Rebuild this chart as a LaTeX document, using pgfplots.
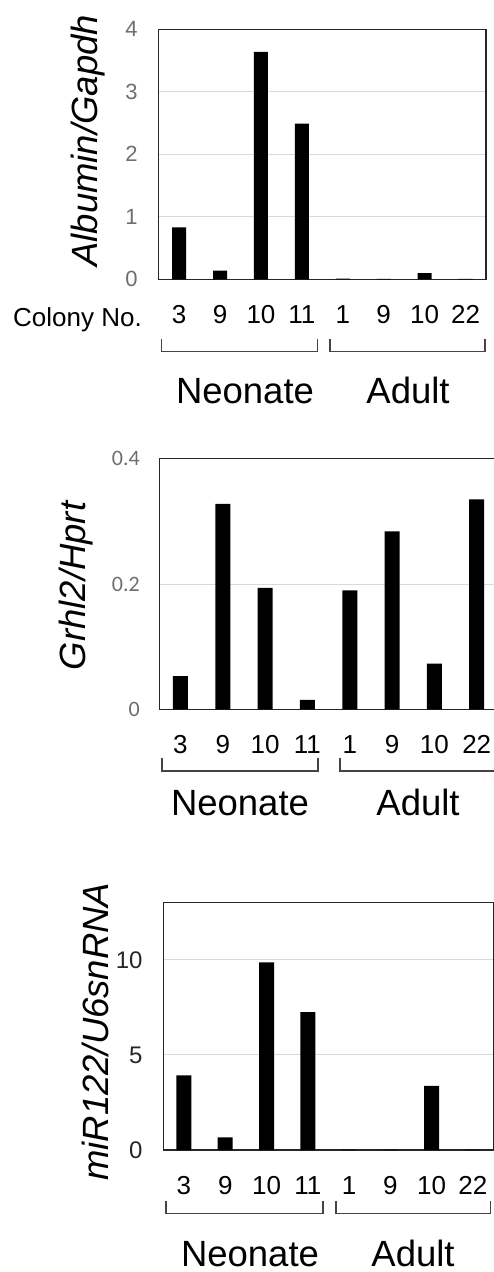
\documentclass[border=0pt]{standalone}
\usepackage{pgfplots}
\pgfplotsset{compat=1.18}
\usepackage{fontspec}
\setmainfont{Liberation Sans}
\newfontfamily\carlito{Carlito}
\definecolor{tickgray}{HTML}{6E6E6E}
\definecolor{gridgray}{HTML}{D9D9D9}
\definecolor{brk}{HTML}{4A4242}
\pgfplotsset{
  panel/.style={
    scale only axis,
    anchor=south west,
    xmin=-0.5, xmax=7.5, ymin=0,
    xtick={0,...,7},
    xticklabels={3,9,10,11,1,9,10,22},
    major tick length=0pt,
    axis line style={line width=1.2pt, black!85},
    ymajorgrids,
    grid style={gridgray, line width=1pt},
    xticklabel style={anchor=base, yshift=-44pt, inner sep=0pt, font=\fontsize{26}{30}\selectfont},
    yticklabel style={anchor=east, inner sep=0pt},
    ybar, bar width=14pt,
  },
}
\begin{document}
\begin{tikzpicture}
\useasboundingbox (0,0) rectangle (494pt,-1272pt);
% ---------- Panel 1 ----------
\begin{axis}[panel, at={(158.7pt,-279.3pt)}, width=327.3pt, height=250pt,
  ymax=4, ytick={0,1,2,3,4}, yticklabels={0,1,2,3,4},
  yticklabel style={xshift=-21pt, text=tickgray, font=\fontsize{22}{26}\selectfont}]
\addplot[fill=black, draw=none] coordinates {(0,0.83) (1,0.14) (2,3.64) (3,2.49) (4,0.01) (5,0.006) (6,0.10) (7,0.006)};
\end{axis}
\node[anchor=base, font=\fontsize{26}{30}\selectfont] at (77.5pt,-326.5pt) {Colony No.};
\draw[brk, line width=1.2pt] (161.7pt,-339pt) -- (161.7pt,-351.7pt) -- (317.3pt,-351.7pt) -- (317.3pt,-339pt);
\draw[brk, line width=1.2pt] (330pt,-339pt) -- (330pt,-351.7pt) -- (485pt,-351.7pt) -- (485pt,-339pt);
\node[anchor=base, font=\fontsize{36.5}{42}\selectfont] at (245pt,-403.3pt) {Neonate};
\node[anchor=base, font=\fontsize{36.5}{42}\selectfont] at (408pt,-403.3pt) {Adult};
\node[rotate=90, font=\fontsize{36.5}{42}\selectfont\itshape] at (88.5pt,-140.8pt) {Albumin/Gapdh};
% ---------- Panel 2 ----------
\begin{axis}[panel, at={(159.3pt,-709.3pt)}, width=338.6pt, height=250.6pt,
  ymax=0.4, ytick={0,0.2,0.4}, yticklabels={0,0.2,0.4}, bar width=15pt,
  yticklabel style={xshift=-19.3pt, text=tickgray, font=\carlito\fontsize{22}{26}\selectfont}]
\addplot[fill=black, draw=none] coordinates {(0,0.053) (1,0.328) (2,0.194) (3,0.015) (4,0.190) (5,0.284) (6,0.073) (7,0.335)};
\end{axis}
\draw[brk, line width=1.2pt] (162pt,-758pt) -- (162pt,-771pt) -- (318pt,-771pt) -- (318pt,-758pt);
\draw[brk, line width=1.2pt] (340pt,-758pt) -- (340pt,-771pt) -- (500pt,-771pt) -- (500pt,-758pt);
\node[anchor=base, font=\fontsize{36.5}{42}\selectfont] at (240pt,-815pt) {Neonate};
\node[anchor=base, font=\fontsize{36.5}{42}\selectfont] at (418pt,-815pt) {Adult};
\node[rotate=90, font=\fontsize{36.5}{42}\selectfont\itshape] at (75.8pt,-586pt) {Grhl2/Hprt};
% ---------- Panel 3 ----------
\begin{axis}[panel, at={(163.3pt,-1150pt)}, width=330.3pt, height=247.3pt,
  ymax=13, ytick={0,5,10}, yticklabels={0,5,10}, bar width=15pt,
  yticklabel style={xshift=-20.6pt, text=black!85, font=\fontsize{24}{28}\selectfont}]
\addplot[fill=black, draw=none] coordinates {(0,3.93) (1,0.67) (2,9.86) (3,7.25) (4,0.02) (5,0.02) (6,3.37) (7,0.02)};
\end{axis}
\draw[brk, line width=1.2pt] (166pt,-1200.7pt) -- (166pt,-1213.5pt) -- (323pt,-1213.5pt) -- (323pt,-1200.7pt);
\draw[brk, line width=1.2pt] (336pt,-1200.7pt) -- (336pt,-1213.5pt) -- (490.7pt,-1213.5pt) -- (490.7pt,-1200.7pt);
\node[anchor=base, font=\fontsize{36.5}{42}\selectfont] at (250pt,-1266.7pt) {Neonate};
\node[anchor=base, font=\fontsize{36.5}{42}\selectfont] at (413pt,-1266.7pt) {Adult};
\node[rotate=90, font=\fontsize{36.5}{42}\selectfont\itshape] at (95pt,-1031.7pt) {miR122/U6snRNA};
\end{tikzpicture}
\end{document}
